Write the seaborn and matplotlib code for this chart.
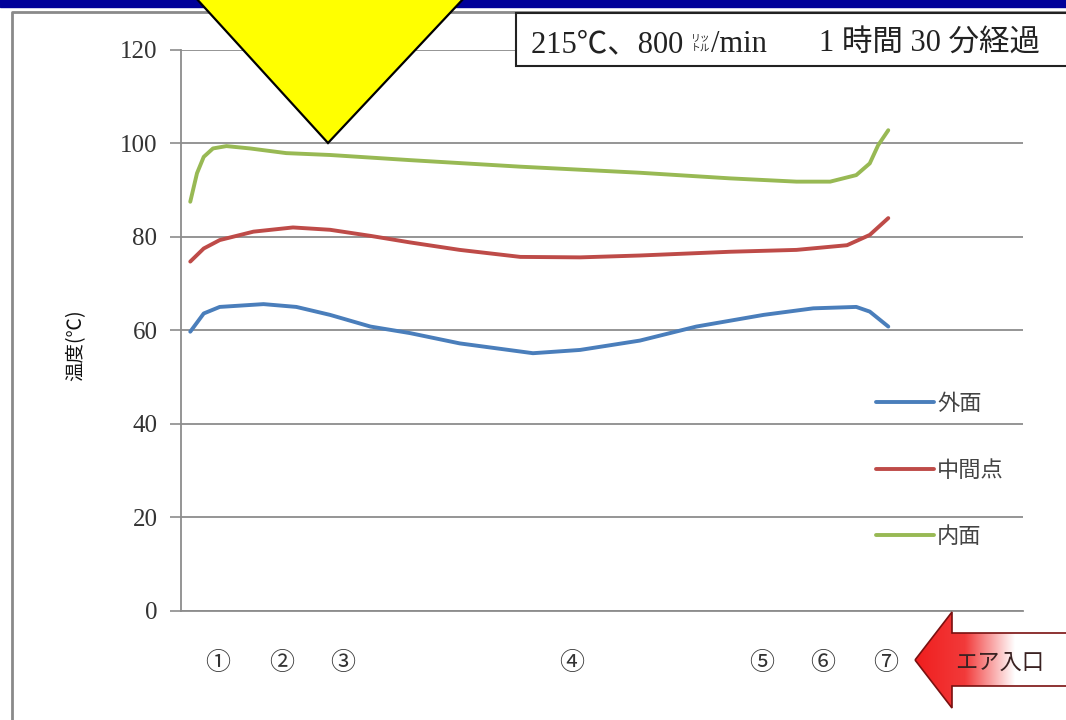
import pandas as pd
import seaborn as sns
import matplotlib.pyplot as plt
from matplotlib.patches import Polygon, Rectangle
from matplotlib.lines import Line2D
from matplotlib.colors import LinearSegmentedColormap
import numpy as np

# --- data (position along the duct, 0-100; temperature in deg C) ---
series_names = ['外面', '中間点', '内面']
series_colors = ['#4a7ebb', '#be4b48', '#98b954']

outer_pos = [1.1, 2.7, 4.6, 9.8, 13.7, 17.7, 22.5, 27.2, 33.1, 41.8, 47.4, 54.5, 61.2, 69.2, 75.1, 80.2, 81.8, 84.0]
outer_temp = [59.7, 63.6, 65.0, 65.6, 65.0, 63.3, 60.8, 59.4, 57.2, 55.1, 55.8, 57.8, 60.8, 63.3, 64.7, 65.0, 64.0, 60.8]

middle_pos = [1.1, 2.7, 4.6, 8.6, 13.3, 17.7, 22.5, 27.2, 33.1, 40.3, 47.4, 54.5, 65.2, 73.1, 79.1, 81.8, 84.0]
middle_temp = [74.7, 77.5, 79.3, 81.1, 82.0, 81.5, 80.2, 78.8, 77.2, 75.7, 75.6, 76.0, 76.8, 77.2, 78.2, 80.4, 84.0]

inner_pos = [1.1, 1.9, 2.7, 3.8, 5.4, 8.2, 12.5, 17.7, 27.2, 40.3, 54.5, 65.2, 73.1, 77.1, 80.2, 81.8, 82.8, 84.0]
inner_temp = [87.5, 93.6, 97.1, 98.9, 99.4, 98.9, 97.9, 97.5, 96.4, 95.0, 93.7, 92.5, 91.8, 91.8, 93.2, 95.7, 99.6, 102.8]

point_labels = ['①', '②', '③', '④', '⑤', '⑥', '⑦']
point_pos = [4.4, 11.9, 19.2, 46.4, 69.0, 76.2, 83.7]

y_ticks = [0, 20, 40, 60, 80, 100, 120]

df = pd.concat([
    pd.DataFrame({'pos': outer_pos, 'temp': outer_temp, 'series': series_names[0]}),
    pd.DataFrame({'pos': middle_pos, 'temp': middle_temp, 'series': series_names[1]}),
    pd.DataFrame({'pos': inner_pos, 'temp': inner_temp, 'series': series_names[2]}),
])

sns.set_theme(style='white')
plt.rcParams['font.family'] = ['Liberation Serif', 'Noto Sans CJK JP', 'DejaVu Sans']
jp = ['Noto Sans CJK JP', 'DejaVu Sans']

W, H = 1066, 720
fig = plt.figure(figsize=(W / 100, H / 100), dpi=100)
ax = fig.add_axes([181 / W, 1 - 610.8 / H, (1023 - 181) / W, (610.8 - 49.8) / H])

sns.lineplot(data=df, x='pos', y='temp', hue='series', hue_order=series_names,
             palette=series_colors, linewidth=2.8, sort=False, estimator=None,
             legend=False, ax=ax)
for ln in ax.lines:
    ln.set_solid_capstyle('round')
    ln.set_solid_joinstyle('round')

ax.set_xlim(0, 100)
ax.set_ylim(0, 120)
ax.set_yticks(y_ticks)
ax.set_axisbelow(True)
ax.yaxis.grid(True, color='#8c8c8c', linewidth=1.3)
ax.xaxis.grid(False)
for s in ['top', 'right']:
    ax.spines[s].set_visible(False)
for s in ['left', 'bottom']:
    ax.spines[s].set_color('#8c8c8c')
    ax.spines[s].set_linewidth(1.3)
ax.tick_params(axis='y', left=True, length=8, width=1.2, color='#8c8c8c', pad=9,
               labelsize=18, labelcolor='#333333')
ax.set_xticks(point_pos)
ax.set_xticklabels(point_labels, fontsize=18, color='#333333')
ax.tick_params(axis='x', length=0, pad=30)
ax.set_xlabel('')
ax.set_ylabel('')

fig.text(76 / W, 1 - 345 / H, '温度(℃)', rotation=90, ha='center', va='center',
         fontsize=14, family=jp, color='#111111')

handles = [Line2D([], [], color=c, linewidth=2.8) for c in series_colors]
fig.legend(handles, series_names, loc='center left', bbox_to_anchor=(876 / W, 1 - 470 / H),
           frameon=False, prop={'family': jp, 'size': 16}, labelcolor='#444444',
           handlelength=2.6, handletextpad=0.15, labelspacing=1.95,
           borderpad=0, borderaxespad=0)

# --- decorations drawn in pixel space ---
ov = fig.add_axes([0, 0, 1, 1], zorder=5)
ov.set_xlim(0, W)
ov.set_ylim(H, 0)
ov.axis('off')

ov.plot([12, 12, W + 5], [H + 5, 12, 12], color='#8a8a8a', linewidth=2)
ov.add_patch(Rectangle((0, -2), W, 9, color='#000099', zorder=2))
ov.add_patch(Rectangle((516, 13), 600, 53, facecolor='white', edgecolor='#222222',
                       linewidth=1.5, zorder=3))
ov.add_patch(Polygon([(195, -3), (465, -3), (328, 143)], closed=True,
                     facecolor='#ffff00', edgecolor='black', linewidth=1.6, zorder=4))

# title text, placed piece by piece
r = fig.canvas.get_renderer()
inv = ov.transData.inverted()
x = 531
t = ov.text(x, 52, '215℃、800 ', fontsize=22, va='baseline', color='#222222', zorder=6)
x = inv.transform(t.get_window_extent(r))[1][0]
t1 = ov.text(x, 40, 'リッ', fontsize=7, va='baseline', family=jp, color='#222222', zorder=6)
ov.text(x, 51, 'トル', fontsize=7, va='baseline', family=jp, color='#222222', zorder=6)
x = inv.transform(t1.get_window_extent(r))[1][0] + 1
t = ov.text(x, 52, '/min', fontsize=22, va='baseline', color='#222222', zorder=6)
x = inv.transform(t.get_window_extent(r))[1][0] + 52
ov.text(x, 52, '1 時間 30 分経過', fontsize=22, va='baseline', color='#222222', zorder=6)

# air inlet arrow with red-to-white gradient
arrow_pts = [(915, 660), (952, 612), (952, 633), (1075, 633), (1075, 686), (952, 686), (952, 708)]
arrow = Polygon(arrow_pts, closed=True, facecolor='none', edgecolor='#7a1010',
                linewidth=1.2, zorder=7)
ov.add_patch(arrow)
grad_cmap = LinearSegmentedColormap.from_list('g', ['#f01e1e', '#f23a3a', '#ffffff'])
img = ov.imshow(np.linspace(0, 1, 256).reshape(1, -1), extent=(915, 1015, 708, 612),
                aspect='auto', cmap=grad_cmap, zorder=6)
img.set_clip_path(arrow)
ov.set_xlim(0, W)
ov.set_ylim(H, 0)
ov.text(1000, 662, 'エア入口', fontsize=16, family=jp, ha='center', va='center',
        color='#3a2222', zorder=8)

fig.savefig('out.png', dpi=100)
